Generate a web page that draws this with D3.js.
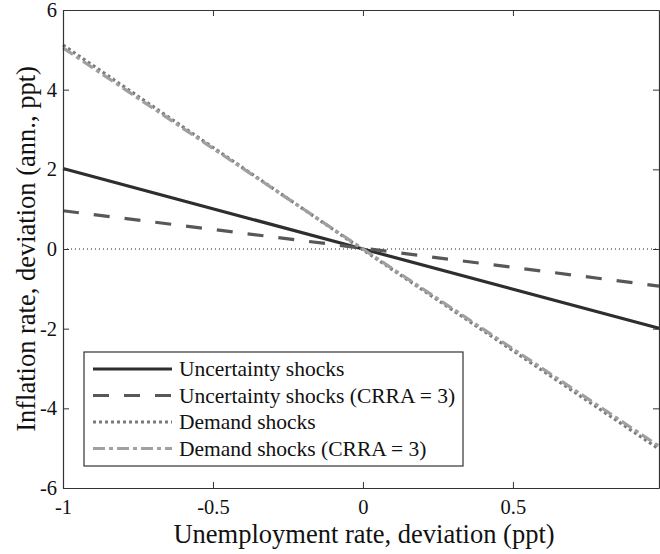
<!DOCTYPE html>
<html>
<head>
<meta charset="utf-8">
<script src="https://d3js.org/d3.v7.min.js"></script>
<style>
  body { margin: 0; background: #fff; }
  text { font-family: "Liberation Serif", "Times New Roman", serif; fill: #111; }
</style>
</head>
<body>
<div id="chart"></div>
<script>
// data
var xPoints = [-1, 0, 0.987];
var uncertainty = [2.02, 0.0, -1.99];
var uncertaintyCRRA = [0.96, 0.02, -0.93];
var demand = [5.12, -0.02, -5.02];
var demandCRRA = [5.05, 0.0, -4.95];

var xTicks = [-1, -0.5, 0, 0.5];
var yTicks = [-6, -4, -2, 0, 2, 4, 6];

var series = [
  {name: "Uncertainty shocks", values: uncertainty, color: "#2e2e2e", dash: null},
  {name: "Uncertainty shocks (CRRA = 3)", values: uncertaintyCRRA, color: "#585858", dash: "16,15"},
  {name: "Demand shocks", values: demand, color: "#7a7a7a", dash: "3,3"},
  {name: "Demand shocks (CRRA = 3)", values: demandCRRA, color: "#a0a0a0", dash: "12,4,4,4"}
];

var width = 660, height = 554;
var margin = {left: 63, right: 1, top: 10, bottom: 66};

var svg = d3.select("#chart").append("svg")
  .attr("width", width)
  .attr("height", height);

var x = d3.scaleLinear().domain([-1, 0.987]).range([margin.left, width - margin.right]);
var y = d3.scaleLinear().domain([-6, 6]).range([height - margin.bottom, margin.top]);

// zero reference line
svg.append("line")
  .attr("x1", x(-1)).attr("x2", x(0.987))
  .attr("y1", y(0)).attr("y2", y(0))
  .attr("stroke", "#222").attr("stroke-width", 1)
  .attr("stroke-dasharray", "1,3");

var line = d3.line()
  .x(function(d) { return x(d[0]); })
  .y(function(d) { return y(d[1]); });

series.forEach(function(s) {
  svg.append("path")
    .datum(xPoints.map(function(v, i) { return [v, s.values[i]]; }))
    .attr("d", line)
    .attr("fill", "none")
    .attr("stroke", s.color)
    .attr("stroke-width", 3.2)
    .attr("stroke-dasharray", s.dash);
});

// plain hyphen instead of unicode minus
var fmt = function(d) { return String(d); };

// axes with inward ticks
svg.append("g")
  .attr("transform", "translate(0," + y(-6) + ")")
  .call(d3.axisBottom(x).tickValues(xTicks).tickSizeInner(-6).tickSizeOuter(0)
    .tickPadding(11).tickFormat(fmt));
svg.append("g")
  .attr("transform", "translate(" + x(-1) + ",0)")
  .call(d3.axisLeft(y).tickValues(yTicks).tickSizeInner(-6).tickSizeOuter(0)
    .tickPadding(6).tickFormat(fmt));
svg.append("g")
  .attr("transform", "translate(0," + y(6) + ")")
  .call(d3.axisTop(x).tickValues(xTicks).tickSizeInner(-6).tickSizeOuter(0).tickFormat(""));
svg.append("g")
  .attr("transform", "translate(" + x(0.987) + ",0)")
  .call(d3.axisRight(y).tickValues(yTicks).tickSizeInner(-6).tickSizeOuter(0).tickFormat(""));

svg.selectAll(".domain").attr("stroke", "#333").attr("stroke-width", 1.2);
svg.selectAll(".tick line").attr("stroke", "#333");
svg.selectAll(".tick text")
  .style("font-family", "Liberation Serif, serif")
  .style("font-size", "20.5px")
  .attr("fill", "#111");

// axis titles
svg.append("text")
  .attr("x", (x(-1) + x(0.987)) / 2 + 3)
  .attr("y", 543)
  .attr("text-anchor", "middle")
  .style("font-size", "26.5px")
  .text("Unemployment rate, deviation (ppt)");

svg.append("text")
  .attr("transform", "translate(35," + y(0) + ") rotate(-90)")
  .attr("text-anchor", "middle")
  .style("font-size", "26.5px")
  .text("Inflation rate, deviation (ann., ppt)");

// legend
var lg = svg.append("g").attr("transform", "translate(84,352)");
lg.append("rect")
  .attr("width", 379).attr("height", 114)
  .attr("fill", "#fff").attr("stroke", "#333").attr("stroke-width", 1.2);

series.forEach(function(s, i) {
  var cy = 17 + i * 26.5;
  lg.append("line")
    .attr("x1", 9).attr("x2", 88)
    .attr("y1", cy).attr("y2", cy)
    .attr("stroke", s.color).attr("stroke-width", 3.2)
    .attr("stroke-dasharray", s.dash);
  lg.append("text")
    .attr("x", 95).attr("y", cy + 7)
    .style("font-size", "21.5px")
    .text(s.name);
});
</script>
</body>
</html>
